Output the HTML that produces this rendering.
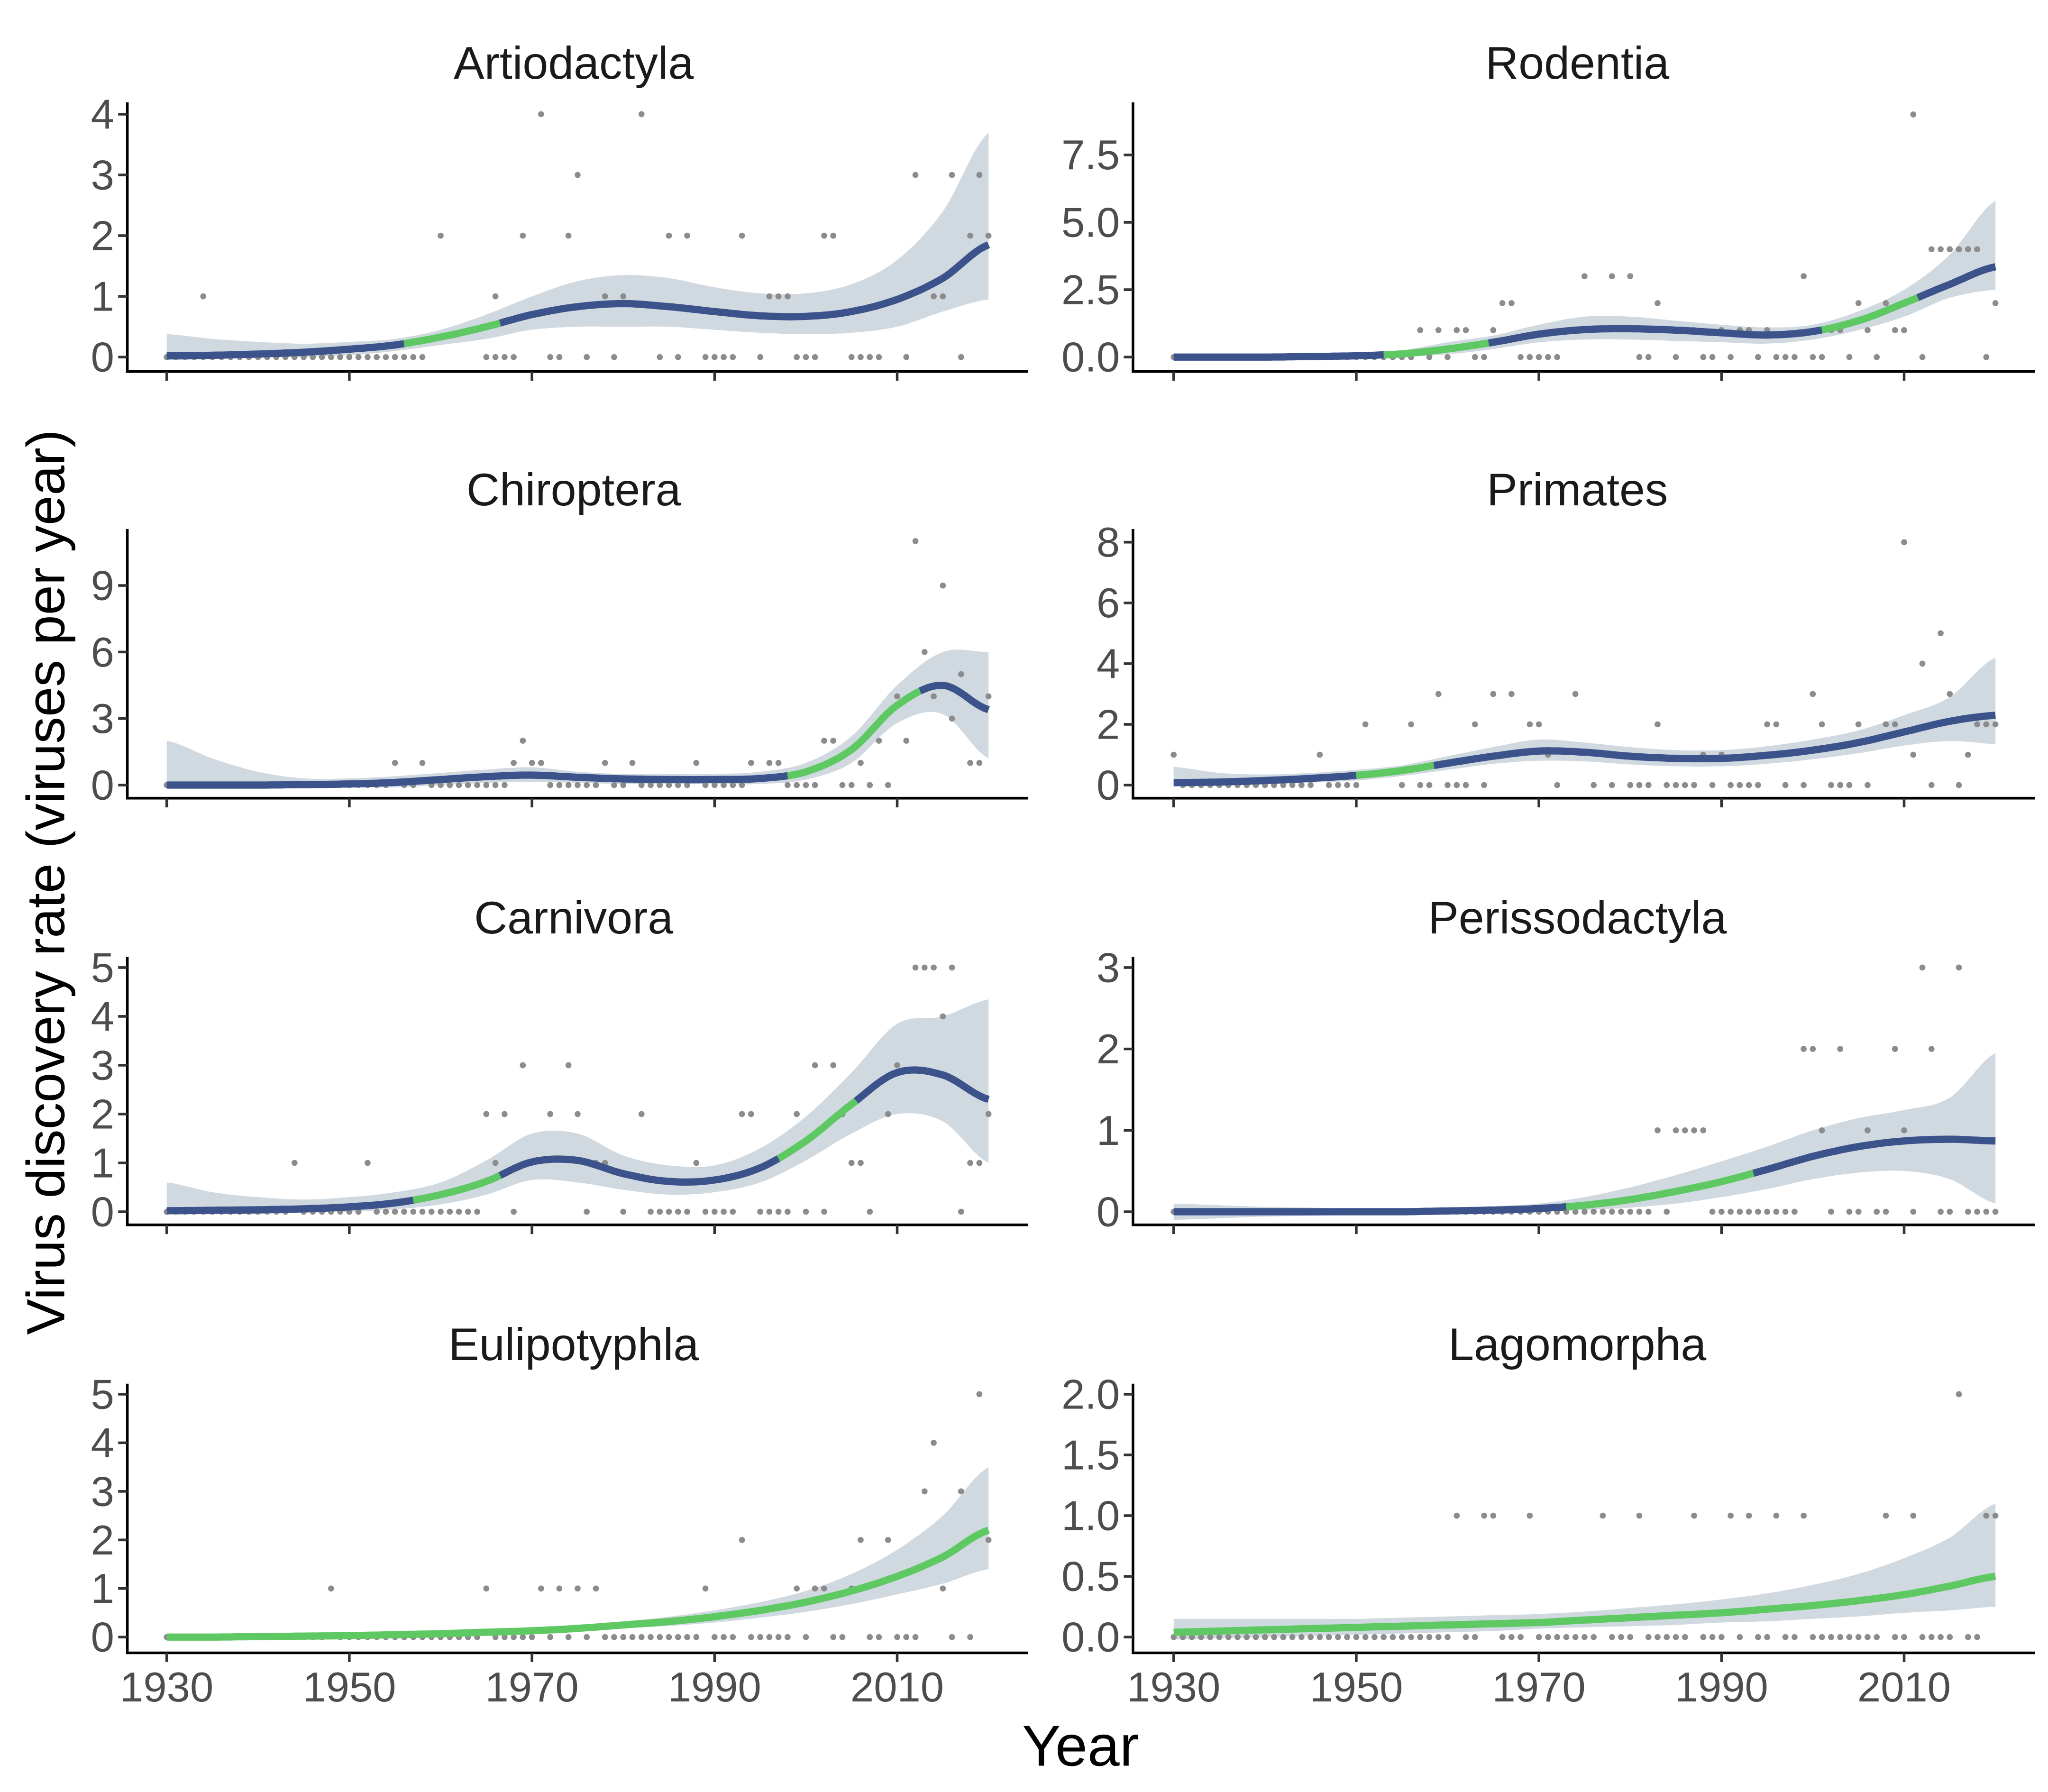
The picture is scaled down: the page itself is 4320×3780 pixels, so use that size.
<!DOCTYPE html>
<html><head><meta charset="utf-8">
<style>
html,body{margin:0;padding:0;background:#fff;}
svg{display:block;}
text{font-family:"Liberation Sans",Arial,sans-serif;}
</style></head>
<body>
<svg id="chart" width="4320" height="3780" viewBox="0 0 1560 1365" xmlns="http://www.w3.org/2000/svg">
<rect x="0" y="0" width="1560" height="1365" fill="#fff"/>
<text x="823" y="1345" font-size="44" text-anchor="middle" fill="#000">Year</text>
<text transform="translate(49,672) rotate(-90)" font-size="41" text-anchor="middle" fill="#000">Virus discovery rate (viruses per year)</text>
</svg>
<script>
const years = [1930,1935,1940,1945,1950,1955,1960,1965,1970,1975,1980,1985,1990,1995,2000,2005,2010,2015,2020];
const xTicks = [1930,1950,1970,1990,2010];
const panelNames = ["Artiodactyla","Rodentia","Chiroptera","Primates","Carnivora","Perissodactyla","Eulipotyphla","Lagomorpha"];
const yTickLabels = [
 ["0","1","2","3","4"],
 ["0.0","2.5","5.0","7.5"],
 ["0","3","6","9"],
 ["0","2","4","6","8"],
 ["0","1","2","3","4","5"],
 ["0","1","2","3"],
 ["0","1","2","3","4","5"],
 ["0.0","0.5","1.0","1.5","2.0"]
];
const fitArtiodactyla = [.02,.03,.05,.08,.13,.2,.33,.5,.7,.83,.88,.83,.75,.68,.67,.75,.95,1.3,1.85];
const hiArtiodactyla = [.38,.3,.25,.22,.25,.3,.45,.7,1.0,1.25,1.35,1.3,1.15,1.05,1.05,1.2,1.6,2.4,3.7];
const loArtiodactyla = [-.05,-.03,0,0,.03,.1,.2,.3,.45,.5,.5,.5,.45,.4,.38,.4,.5,.75,.95];
const fitRodentia = [0,0,0,.02,.05,.12,.3,.55,.85,1.02,1.05,1.0,.9,.82,.95,1.35,2.0,2.7,3.35];
const hiRodentia = [.1,.08,.06,.06,.12,.25,.55,.8,1.2,1.5,1.5,1.35,1.2,1.1,1.2,1.7,2.5,3.8,5.8];
const loRodentia = [-.05,-.05,-.05,-.02,0,.02,.1,.3,.55,.65,.65,.6,.55,.5,.65,1.0,1.5,2.2,2.5];
const fitChiroptera = [0,0,0,.02,.05,.12,.25,.38,.45,.35,.28,.25,.25,.3,.6,1.6,3.6,4.5,3.4];
const hiChiroptera = [2.0,1.2,.6,.3,.3,.4,.55,.7,.8,.6,.5,.5,.5,.6,1.0,2.2,4.5,6.0,6.0];
const loChiroptera = [-.1,-.1,-.1,-.1,-.1,-.1,0,.1,.15,.1,.05,.05,.05,.05,.25,1.0,2.8,3.2,1.2];
const fitPrimates = [.08,.1,.15,.22,.32,.48,.72,.95,1.12,1.08,.95,.88,.88,.98,1.15,1.4,1.75,2.1,2.3];
const hiPrimates = [.6,.4,.35,.4,.5,.65,.95,1.25,1.5,1.4,1.25,1.15,1.15,1.28,1.5,1.8,2.3,2.9,4.2];
const loPrimates = [-.05,0,.02,.08,.15,.3,.5,.7,.8,.78,.68,.62,.62,.7,.85,1.05,1.3,1.45,1.35];
const fitCarnivora = [.02,.03,.04,.06,.1,.18,.35,.62,1.02,1.05,.78,.62,.65,.9,1.45,2.2,2.85,2.8,2.3];
const hiCarnivora = [.6,.4,.3,.25,.3,.4,.6,1.05,1.6,1.6,1.15,.95,.95,1.3,1.95,2.85,3.85,4.0,4.35];
const loCarnivora = [-.05,-.05,-.05,-.02,0,.05,.15,.35,.65,.6,.45,.35,.4,.6,1.05,1.6,2.0,1.85,1.0];
const fitPerissodactyla = [0,0,0,0,0,0,.01,.02,.04,.08,.15,.25,.37,.52,.68,.8,.87,.89,.87];
const hiPerissodactyla = [.1,.08,.06,.05,.04,.04,.05,.07,.1,.18,.3,.45,.62,.8,1.0,1.15,1.25,1.4,1.95];
const loPerissodactyla = [-.1,-.08,-.06,-.05,-.04,-.04,-.03,-.02,0,.02,.05,.1,.18,.28,.4,.48,.5,.4,.1];
const fitEulipotyphla = [0,0,.01,.02,.03,.05,.07,.1,.13,.18,.25,.32,.42,.55,.72,.95,1.25,1.65,2.2];
const hiEulipotyphla = [.05,.05,.05,.05,.06,.08,.1,.14,.18,.24,.32,.42,.55,.72,.95,1.3,1.8,2.5,3.5];
const loEulipotyphla = [-.05,-.04,-.03,-.02,0,.02,.04,.06,.09,.12,.18,.23,.3,.4,.52,.68,.88,1.1,1.4];
const fitLagomorpha = [.04,.05,.06,.07,.08,.09,.1,.11,.12,.14,.16,.18,.2,.23,.26,.3,.35,.42,.5];
const hiLagomorpha = [.15,.15,.15,.15,.15,.16,.17,.18,.19,.21,.24,.27,.31,.36,.43,.52,.65,.82,1.1];
const loLagomorpha = [-.02,-.01,0,.01,.02,.03,.04,.05,.07,.08,.09,.1,.12,.13,.15,.17,.2,.22,.25];
const greenRanges = [
 [[1956,1966]], [[1953,1964],[2001,2011]], [[1998,2012]], [[1950,1958]],
 [[1957,1966],[1997,2005]], [[1973,1993]], [[1930,2020]], [[1930,2020]]
];
const pointsArtiodactyla = [[1934,1],[1960,2],[1966,1],[1969,2],[1971,4],[1974,2],[1975,3],[1978,1],[1980,1],[1982,4],[1985,2],[1987,2],[1993,2],[1996,1],[1997,1],[1998,1],[2002,2],[2003,2],[2012,3],[2014,1],[2015,1],[2016,3],[2019,3],[2020,2],[2018,2]];
const pointsRodentia = [[1957,1],[1959,1],[1961,1],[1962,1],[1965,1],[1966,2],[1967,2],[1975,3],[1978,3],[1980,3],[1983,2],[1987,1],[1990,1],[1992,1],[1993,1],[1995,1],[1999,3],[2002,1],[2003,1],[2005,2],[2006,1],[2008,2],[2009,1],[2010,1],[2011,9],[2013,4],[2014,4],[2015,4],[2016,4],[2017,4],[2018,4],[2020,2]];
const pointsChiroptera = [[1955,1],[1958,1],[1968,1],[1969,2],[1970,1],[1971,1],[1978,1],[1981,1],[1988,1],[1994,1],[1996,1],[1997,1],[2002,2],[2003,2],[2006,1],[2008,2],[2010,4],[2011,2],[2012,11],[2013,6],[2014,4],[2015,9],[2016,3],[2017,5],[2018,1],[2019,1],[2020,4]];
const pointsPrimates = [[1930,1],[1946,1],[1951,2],[1956,2],[1959,3],[1963,2],[1965,3],[1967,3],[1969,2],[1970,2],[1971,1],[1974,3],[1983,2],[1988,1],[1990,1],[1995,2],[1996,2],[2000,3],[2001,2],[2005,2],[2008,2],[2009,2],[2010,8],[2011,1],[2012,4],[2014,5],[2015,3],[2017,1],[2018,2],[2019,2],[2020,2]];
const pointsCarnivora = [[1944,1],[1952,1],[1965,2],[1966,1],[1967,2],[1969,3],[1972,2],[1974,3],[1975,2],[1977,1],[1978,1],[1982,2],[1988,1],[1993,2],[1994,2],[1999,2],[2001,3],[2003,3],[2004,2],[2005,1],[2006,1],[2009,2],[2010,3],[2012,5],[2013,5],[2014,5],[2015,4],[2016,5],[2018,1],[2019,1],[2020,2]];
const pointsPerissodactyla = [[1983,1],[1985,1],[1986,1],[1987,1],[1988,1],[1999,2],[2000,2],[2001,1],[2003,2],[2006,1],[2009,2],[2010,1],[2012,3],[2013,2],[2016,3]];
const pointsEulipotyphla = [[1948,1],[1965,1],[1971,1],[1973,1],[1975,1],[1977,1],[1989,1],[1993,2],[1999,1],[2001,1],[2002,1],[2005,1],[2006,2],[2009,2],[2013,3],[2014,4],[2015,1],[2017,3],[2019,5],[2020,2]];
const pointsLagomorpha = [[1961,1],[1964,1],[1965,1],[1969,1],[1977,1],[1981,1],[1987,1],[1991,1],[1993,1],[1996,1],[1999,1],[2008,1],[2011,1],[2016,2],[2019,1],[2020,1]];
const zerosArtiodactyla = "1930-1958,1965-1968,1972,1973,1976,1979,1984,1986,1989-1992,1995,1999-2001,2005-2008,2011,2017";
const zerosRodentia = "1930-1956,1958,1960,1963,1964,1968-1972,1981,1982,1985,1988,1989,1991,1994,1996-1998,2000,2001,2004,2007,2012,2019";
const zerosChiroptera = "1930-1954,1956,1957,1959-1967,1972-1977,1979,1980,1982-1987,1989-1993,1998-2001,2004,2005,2007,2009";
const zerosPrimates = "1931-1945,1947-1950,1955,1957,1958,1960-1962,1964,1972,1976,1978,1980-1982,1984-1987,1989,1991-1994,1997,1999,2002-2004,2006,2013,2016";
const zerosCarnivora = "1930-1943,1945-1951,1953-1964,1968,1976,1980,1983-1987,1989-1992,1995-1998,2000,2002,2007,2017";
const zerosPerissodactyla = "1930-1982,1984,1989-1998,2002,2004,2005,2007,2008,2011,2014,2015,2017-2020";
const zerosEulipotyphla = "1930-1947,1949-1964,1966-1970,1972,1974,1976,1978-1988,1990-1992,1994-1998,2000,2003,2004,2007,2008,2010-2012,2016,2018";
const zerosLagomorpha = "1930-1960,1962,1963,1966-1968,1970-1976,1978-1980,1982-1986,1988-1990,1992,1994,1995,1997,1998,2000-2007,2009,2010,2012-2015,2017,2018";

const fits=[fitArtiodactyla,fitRodentia,fitChiroptera,fitPrimates,fitCarnivora,fitPerissodactyla,fitEulipotyphla,fitLagomorpha];
const his=[hiArtiodactyla,hiRodentia,hiChiroptera,hiPrimates,hiCarnivora,hiPerissodactyla,hiEulipotyphla,hiLagomorpha];
const los=[loArtiodactyla,loRodentia,loChiroptera,loPrimates,loCarnivora,loPerissodactyla,loEulipotyphla,loLagomorpha];
const pts=[pointsArtiodactyla,pointsRodentia,pointsChiroptera,pointsPrimates,pointsCarnivora,pointsPerissodactyla,pointsEulipotyphla,pointsLagomorpha];
const zeros=[zerosArtiodactyla,zerosRodentia,zerosChiroptera,zerosPrimates,zerosCarnivora,zerosPerissodactyla,zerosEulipotyphla,zerosLagomorpha];
// layout (pixel) config
const colAxisX=[97,863], colX0=[127,894], colRight=[783,1550], xScale=6.955;
const rowShift=[0,-2,-4,-6];
const rowY0=[272,600,927,1253], rowAxisY=[283,610,937,1265], rowTop=[78,405,733,1060];
const topTickPx=[87,118,448,415,741,741,1068,1068];

const svg=document.getElementById('chart');
const NS="http://www.w3.org/2000/svg";
function mk(tag,attrs,parent){const e=document.createElementNS(NS,tag);for(const k in attrs)e.setAttribute(k,attrs[k]);(parent||svg).appendChild(e);return e;}
function parseYears(s){const out=[];s.split(',').forEach(p=>{const r=p.split('-').map(Number);if(r.length===1)out.push(r[0]);else for(let y=r[0];y<=r[1];y++)out.push(y);});return out;}
function interp(arr,yr){
  const t=(yr-years[0])/5; let i=Math.floor(t); if(i>=arr.length-1)i=arr.length-2; const f=t-i;
  const p0=arr[Math.max(i-1,0)],p1=arr[i],p2=arr[i+1],p3=arr[Math.min(i+2,arr.length-1)];
  return 0.5*((2*p1)+(-p0+p2)*f+(2*p0-5*p1+4*p2-p3)*f*f+(-p0+3*p1-3*p2+p3)*f*f*f);
}
for(let p=0;p<8;p++){
  const col=p%2,row=Math.floor(p/2),sh=rowShift[row];
  const y0=rowY0[row]+sh, axY=rowAxisY[row]+sh, top=rowTop[row]+sh;
  const topVal=parseFloat(yTickLabels[p][yTickLabels[p].length-1]);
  const ys=(rowY0[row]-topTickPx[p])/topVal;
  const X=yr=>colX0[col]+(yr-1930)*xScale;
  const Y=v=>y0-v*ys;
  const g=mk('g',{});
  
  
  const cx=(colAxisX[col]+colRight[col])/2;
  const t=mk('text',{x:cx+(col?-5:-3),y:top-18,'font-size':35,'text-anchor':'middle',fill:'#1a1a1a'},g);
  t.textContent=panelNames[p];
  
  
  let d='';
  for(let yr=1930;yr<=2020;yr+=0.5)d+=(d?'L':'M')+X(yr).toFixed(1)+','+Y(interp(his[p],yr)).toFixed(1);
  for(let yr=2020;yr>=1930;yr-=0.5)d+='L'+X(yr).toFixed(1)+','+Y(interp(los[p],yr)).toFixed(1);
  const rib=mk('path',{d:d+'Z',fill:'#d0d8e0'},g);
  
  
  parseYears(zeros[p]).forEach(yr=>{const c=mk('circle',{cx:X(yr),cy:Y(0),r:2.3,fill:'#8c8c8c'},g);
    
    });
  pts[p].forEach(q=>{const c=mk('circle',{cx:X(q[0]),cy:Y(q[1]),r:2.3,fill:'#8c8c8c'},g);
    
    });
  const isGreen=yr=>greenRanges[p].some(r=>yr>=r[0]&&yr<=r[1]);
  let seg=[],cur=null;
  const flush=()=>{if(seg.length>1){const l=mk('polyline',{points:seg.join(' '),fill:'none',stroke:cur?'#5ec962':'#3b528b','stroke-width':5.5,'stroke-linejoin':'round'},g);
    
    }};
  for(let yr=1930;yr<=2020.001;yr+=0.5){
    const gr=isGreen(yr),pt=X(yr).toFixed(1)+','+Y(interp(fits[p],yr)).toFixed(1);
    if(cur===null)cur=gr;
    if(gr!==cur){seg.push(pt);flush();seg=[pt];cur=gr;}else seg.push(pt);
  }
  flush();
  const ax=mk('line',{x1:colAxisX[col],y1:top,x2:colAxisX[col],y2:axY,stroke:'#000','stroke-width':2},g);
  
  
  const bx=mk('line',{x1:colAxisX[col]-1,y1:axY,x2:colRight[col],y2:axY,stroke:'#000','stroke-width':2},g);
  
  
  yTickLabels[p].forEach(lb=>{const v=parseFloat(lb),yy=Y(v);
    mk('line',{x1:colAxisX[col]-7,y1:yy,x2:colAxisX[col],y2:yy,stroke:'#333','stroke-width':2},g);
    const tx=mk('text',{x:colAxisX[col]-10,y:yy+11,'font-size':32,'text-anchor':'end',fill:'#4d4d4d'},g);
    tx.textContent=lb;
    
    });
  xTicks.forEach(v=>{const xx=X(v);
    mk('line',{x1:xx,y1:axY,x2:xx,y2:axY+7,stroke:'#333','stroke-width':2},g);
    if(row===3){const tx=mk('text',{x:xx,y:axY+37,'font-size':32,'text-anchor':'middle',fill:'#4d4d4d'},g);
      tx.textContent=v;
      
      }});
}
</script>
</body></html>
